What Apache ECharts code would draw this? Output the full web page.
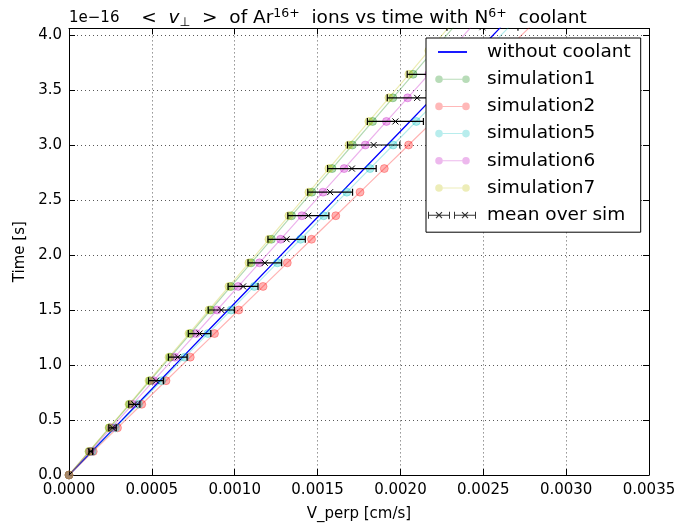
<!DOCTYPE html>
<html>
<head>
<meta charset="utf-8">
<script src="https://cdn.jsdelivr.net/npm/echarts@6/dist/echarts.min.js"></script>
<style>
  html, body { margin: 0; padding: 0; background: #fff; }
  #chart { width: 678px; height: 528px; }
</style>
</head>
<body>
<div id="chart"></div>
<script>
// time in units of 1e-16 s
const times = [0, 0.2143, 0.4286, 0.6429, 0.8571, 1.0714, 1.2857, 1.5, 1.7143, 1.9286,
  2.1429, 2.3571, 2.5714, 2.7857, 3.0, 3.2143, 3.4286, 3.6429, 3.8571, 4.0714];

// V_perp [cm/s]
const withoutCoolant = [0, 0.0001372, 0.0002743, 0.0004115, 0.0005485, 0.0006857, 0.0008228, 0.00096, 0.0010972, 0.0012343,
  0.0013715, 0.0015085, 0.0016457, 0.0017828, 0.00192, 0.0020572, 0.0021943, 0.0023315, 0.0024685, 0.0026057];
const simulation1 = [0, 0.0001222, 0.0002443, 0.0003665, 0.0004885, 0.0006107, 0.0007328, 0.000855, 0.0009772, 0.0010993,
  0.0012215, 0.0013435, 0.0014657, 0.0015878, 0.00171, 0.0018322, 0.0019543, 0.0020765, 0.0021985, 0.0023207];
const simulation2 = [0, 0.0001464, 0.0002927, 0.0004391, 0.0005854, 0.0007318, 0.0008781, 0.0010245, 0.0011709, 0.0013172,
  0.0014636, 0.0016099, 0.0017563, 0.0019026, 0.002049, 0.0021954, 0.0023417, 0.0024881, 0.0026344, 0.0027808];
const simulation5 = [0, 0.0001397, 0.0002794, 0.0004192, 0.0005588, 0.0006986, 0.0008383, 0.000978, 0.0011177, 0.0012574,
  0.0013972, 0.0015368, 0.0016766, 0.0018163, 0.001956, 0.0020957, 0.0022354, 0.0023752, 0.0025148, 0.0026546];
const simulation6 = [0, 0.0001277, 0.0002554, 0.0003832, 0.0005108, 0.0006386, 0.0007663, 0.000894, 0.0010217, 0.0011494,
  0.0012772, 0.0014048, 0.0015326, 0.0016603, 0.001788, 0.0019157, 0.0020434, 0.0021712, 0.0022988, 0.0024266];
const simulation7 = [0, 0.0001206, 0.0002413, 0.000362, 0.0004825, 0.0006032, 0.0007238, 0.0008445, 0.0009651, 0.0010858,
  0.0012065, 0.001327, 0.0014477, 0.0015683, 0.001689, 0.0018097, 0.0019303, 0.002051, 0.0021715, 0.0022922];
const meanOverSim = [0, 0.0001313, 0.0002626, 0.000394, 0.0005252, 0.0006566, 0.0007879, 0.0009192, 0.0010505, 0.0011818,
  0.0013132, 0.0014444, 0.0015758, 0.0017071, 0.0018384, 0.0019697, 0.002101, 0.0022324, 0.0023636, 0.002495];
const errOverSim = [0, 0.0000113, 0.0000225, 0.0000338, 0.0000451, 0.0000564, 0.0000676, 0.0000789, 0.0000902, 0.0001014,
  0.0001127, 0.000124, 0.0001353, 0.0001465, 0.0001578, 0.0001691, 0.0001803, 0.0001916, 0.0002029, 0.0002142];

const xTicks = [0, 0.0005, 0.001, 0.0015, 0.002, 0.0025, 0.003, 0.0035];
const yTicks = [0, 0.5, 1, 1.5, 2, 2.5, 3, 3.5, 4];

const font = "'DejaVu Sans', sans-serif";

const sims = [
  { name: 'simulation1', values: simulation1, color: '#008000' },
  { name: 'simulation2', values: simulation2, color: '#ff0000' },
  { name: 'simulation5', values: simulation5, color: '#00bfbf' },
  { name: 'simulation6', values: simulation6, color: '#bf00bf' },
  { name: 'simulation7', values: simulation7, color: '#bfbf00' }
];

function pairs(vals) {
  return vals.map((v, i) => [v, times[i]]);
}

// legend icons, all drawn in a 48x8 box (first two moves fix the box)
const iconLine = 'path://M0,0M48,8M10,3.1H39V4.9H10Z';
const iconSim = 'path://M0,0M48,8M7.2,4A3.8,3.8,0,1,1,14.8,4A3.8,3.8,0,1,1,7.2,4Z' +
  'M34.2,4A3.8,3.8,0,1,1,41.8,4A3.8,3.8,0,1,1,34.2,4ZM14.8,3.5H34.2V4.5H14.8Z';
function errGlyph(dx) {
  const r = (x0, y0, x1, y1) => 'M' + (x0 + dx) + ',' + y0 + 'H' + (x1 + dx) + 'V' + y1 + 'H' + (x0 + dx) + 'Z';
  const c = 11 + dx;
  return r(0, 0.5, 1, 7.5) + r(21, 0.5, 22, 7.5) + r(0, 3.5, 22, 4.5) +
    'M' + (c - 3.4) + ',1.4L' + (c - 2.6) + ',0.6L' + (c + 3.4) + ',6.6L' + (c + 2.6) + ',7.4Z' +
    'M' + (c + 2.6) + ',0.6L' + (c + 3.4) + ',1.4L' + (c - 2.6) + ',7.4L' + (c - 3.4) + ',6.6Z';
}
const iconErr = 'path://M0,0M48,8' + errGlyph(0) + errGlyph(26);

function renderErrorBar(params, api) {
  const v = api.value(0), t = api.value(1), e = api.value(2);
  const c = api.coord([v, t]);
  const lo = api.coord([v - e, t]);
  const hi = api.coord([v + e, t]);
  const cap = 3.5, arm = 3;
  const st = { stroke: '#000', lineWidth: 1.2 };
  return {
    type: 'group',
    children: [
      { type: 'line', shape: { x1: lo[0], y1: c[1], x2: hi[0], y2: c[1] }, style: st },
      { type: 'line', shape: { x1: lo[0], y1: c[1] - cap, x2: lo[0], y2: c[1] + cap }, style: st },
      { type: 'line', shape: { x1: hi[0], y1: c[1] - cap, x2: hi[0], y2: c[1] + cap }, style: st },
      { type: 'line', shape: { x1: c[0] - arm, y1: c[1] - arm, x2: c[0] + arm, y2: c[1] + arm }, style: { stroke: '#000', lineWidth: 1 } },
      { type: 'line', shape: { x1: c[0] - arm, y1: c[1] + arm, x2: c[0] + arm, y2: c[1] - arm }, style: { stroke: '#000', lineWidth: 1 } }
    ]
  };
}

const gridLine = { show: true, lineStyle: { color: '#000', width: 1, type: [1, 3], opacity: 0.65 } };
const frame = { show: true, onZero: false, lineStyle: { color: '#000', width: 1 } };
const ticks = { show: true, inside: true, length: 6, lineStyle: { color: '#000', width: 1 } };

const series = [{
  type: 'line',
  name: 'without coolant',
  data: pairs(withoutCoolant),
  symbol: 'none',
  lineStyle: { color: '#0000ff', width: 1.3 },
  itemStyle: { color: '#0000ff' },
  emphasis: { disabled: true },
  z: 2
}];
sims.forEach(s => {
  series.push({
    type: 'line',
    name: s.name,
    data: pairs(s.values),
    symbol: 'circle',
    symbolSize: 8,
    showAllSymbol: true,
    lineStyle: { color: s.color, width: 1.2, opacity: 0.3 },
    itemStyle: { color: s.color, opacity: 0.3, borderColor: s.color, borderWidth: 1 },
    emphasis: { disabled: true },
    z: 3
  });
});
series.push({
  type: 'custom',
  name: 'mean over sim',
  data: meanOverSim.map((v, i) => [v, times[i], errOverSim[i]]),
  encode: { x: 0, y: 1 },
  renderItem: renderErrorBar,
  itemStyle: { color: '#000' },
  clip: true,
  z: 4
});

const legendData = [{ name: 'without coolant', icon: iconLine, itemStyle: { borderWidth: 0, opacity: 1 } }];
sims.forEach(s => legendData.push({ name: s.name, icon: iconSim, itemStyle: { borderWidth: 0, opacity: 0.28 } }));
legendData.push({ name: 'mean over sim', icon: iconErr, itemStyle: { borderWidth: 0, opacity: 0.8 } });

const chart = echarts.init(document.getElementById('chart'));
chart.setOption({
  animation: false,
  backgroundColor: '#fff',
  title: {
    text: '{a|<  }{v|v}{s|⊥}{a|  >}  of Ar{p|16+}  ions vs time with N{p|6+}  coolant',
    left: 359,
    top: 2,
    textAlign: 'center',
    textStyle: {
      fontFamily: font, fontSize: 18.5, fontWeight: 'normal', color: '#000',
      rich: {
        a: { fontFamily: font, fontSize: 18.5, color: '#000' },
        v: { fontFamily: font, fontSize: 18.5, fontStyle: 'italic', color: '#000' },
        s: { fontFamily: font, fontSize: 12.5, color: '#000', padding: [9, 0, 0, 0] },
        p: { fontFamily: font, fontSize: 12.5, color: '#000', padding: [0, 0, 10, 0] }
      }
    }
  },
  graphic: [{
    type: 'text',
    x: 69, y: 18.5,
    style: { text: '1e\u221216', font: '15px ' + font, fill: '#000', verticalAlign: 'middle' }
  }],
  legend: {
    orient: 'vertical',
    left: 426,
    top: 38,
    padding: [4, 10, 7, 2],
    itemWidth: 48,
    itemHeight: 8,
    itemGap: 7.2,
    selectedMode: false,
    backgroundColor: '#fff',
    borderColor: '#000',
    borderWidth: 1,
    borderRadius: 0,
    itemStyle: { borderWidth: 0 },
    textStyle: { fontFamily: font, fontSize: 18.5, color: '#000', lineHeight: 20, padding: [0, 0, 0, 6] },
    data: legendData,
    z: 10
  },
  grid: { left: 69, right: 29, top: 28.4, bottom: 53, containLabel: false, outerBoundsMode: 'none' },
  xAxis: [{
    type: 'value', position: 'bottom',
    min: xTicks[0], max: xTicks[xTicks.length - 1], interval: 0.0005,
    axisLine: frame, axisTick: ticks, splitLine: gridLine,
    axisLabel: { color: '#000', fontFamily: font, fontSize: 15, margin: 7.5, formatter: v => v.toFixed(4) },
    name: 'V_perp [cm/s]', nameLocation: 'middle', nameGap: 32,
    nameTextStyle: { color: '#000', fontFamily: font, fontSize: 15 }
  }, {
    type: 'value', position: 'top',
    min: xTicks[0], max: xTicks[xTicks.length - 1], interval: 0.0005,
    axisLine: frame, axisTick: ticks, splitLine: { show: false }, axisLabel: { show: false }
  }],
  yAxis: [{
    type: 'value', position: 'left',
    min: yTicks[0], max: 4.06, interval: 0.5,
    axisLine: frame, axisTick: ticks, splitLine: gridLine,
    axisLabel: { color: '#000', fontFamily: font, fontSize: 15, margin: 7, showMaxLabel: false, formatter: v => v.toFixed(1) },
    name: 'Time [s]', nameLocation: 'middle', nameGap: 36, nameRotate: 90,
    nameTextStyle: { color: '#000', fontFamily: font, fontSize: 15 }
  }, {
    type: 'value', position: 'right',
    min: yTicks[0], max: 4.06, interval: 0.5,
    axisLine: frame, axisTick: ticks, splitLine: { show: false }, axisLabel: { show: false }
  }],
  series: series
});
</script>
</body>
</html>
